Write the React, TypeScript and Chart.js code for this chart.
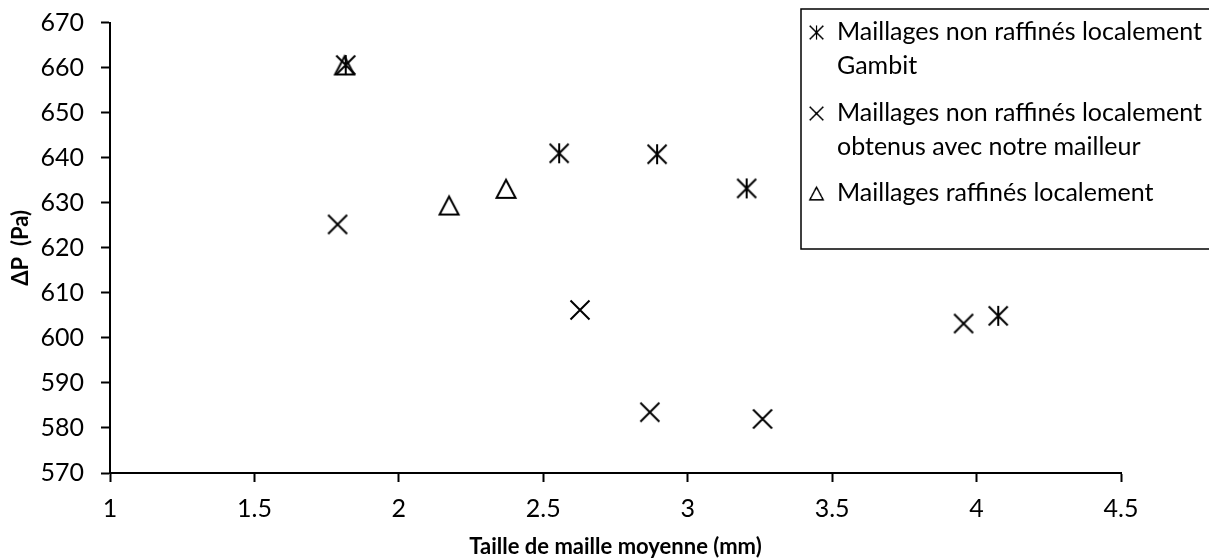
import React, { useEffect, useRef } from "react";
import { Chart, registerables } from "chart.js";

Chart.register(...registerables);

// ---- Data ----
const gambitX = [1.816, 2.555, 2.894, 3.204, 4.075];
const gambitY = [660.6, 641.0, 640.8, 633.2, 604.9];
const notreX = [1.788, 2.627, 2.869, 3.259, 3.955];
const notreY = [625.2, 606.2, 583.5, 582.0, 603.2];
const raffX = [1.812, 2.174, 2.371];
const raffY = [660.5, 629.4, 633.1];

const legendLines = [
  ["Maillages non raffinés localement", "Gambit"],
  ["Maillages non raffinés localement", "obtenus avec notre mailleur"],
  ["Maillages raffinés localement"],
];
const xTitle = "Taille de maille moyenne (mm)";
const yTitle = "ΔP  (Pa)";
const xMin = 1;
const xMax = 4.5;
const xStep = 0.5;
const yMin = 570;
const yMax = 670;
const yStep = 10;

const FONT = "Lato, 'Noto Sans', sans-serif";

function makeMarker(kind: string): HTMLCanvasElement {
  const c = document.createElement("canvas");
  c.width = 24;
  c.height = 24;
  const ctx = c.getContext("2d")!;
  ctx.strokeStyle = "#000";
  ctx.lineWidth = 2;
  ctx.lineCap = "butt";
  const m = 12;
  ctx.beginPath();
  if (kind === "star") {
    ctx.moveTo(m - 9.5, m - 9.5);
    ctx.lineTo(m + 9.5, m + 9.5);
    ctx.moveTo(m + 9.5, m - 9.5);
    ctx.lineTo(m - 9.5, m + 9.5);
    ctx.moveTo(m, m - 10);
    ctx.lineTo(m, m + 10);
    ctx.stroke();
  } else if (kind === "cross") {
    ctx.moveTo(m - 9.5, m - 9.5);
    ctx.lineTo(m + 9.5, m + 9.5);
    ctx.moveTo(m + 9.5, m - 9.5);
    ctx.lineTo(m - 9.5, m + 9.5);
    ctx.stroke();
  } else {
    ctx.moveTo(m, m - 9);
    ctx.lineTo(m + 9.5, m + 9);
    ctx.lineTo(m - 9.5, m + 9);
    ctx.closePath();
    ctx.stroke();
  }
  return c;
}

export default function App() {
  const ref = useRef<HTMLCanvasElement | null>(null);

  useEffect(() => {
    document.body.style.margin = "0";
    const canvas = ref.current;
    if (!canvas) return;
    const star = makeMarker("star");
    const cross = makeMarker("cross");
    const tri = makeMarker("tri");
    const markers = [star, cross, tri];

    const legendPlugin = {
      id: "customLegend",
      afterDraw(chart: any) {
        const ctx = chart.ctx;
        ctx.save();
        ctx.strokeStyle = "#000";
        ctx.lineWidth = 1.5;
        ctx.strokeRect(801, 9, 420, 240);
        ctx.fillStyle = "#000";
        ctx.font = `25px ${FONT}`;
        ctx.textBaseline = "middle";
        ctx.textAlign = "left";
        const rows = [32, 113, 193];
        const lh = 34;
        legendLines.forEach((lines, i) => {
          const y0 = rows[i];
          ctx.drawImage(markers[i], 816 - 8, y0 - 8, 17, 17);
          lines.forEach((t, j) => ctx.fillText(t, 837, y0 + j * lh));
        });
        ctx.restore();
      },
    };

    const chart = new Chart(canvas, {
      type: "scatter",
      data: {
        datasets: [
          {
            label: legendLines[0].join(" "),
            data: gambitX.map((x, i) => ({ x, y: gambitY[i] })),
            pointStyle: star as any,
            pointRadius: 10,
            showLine: false,
          },
          {
            label: legendLines[1].join(" "),
            data: notreX.map((x, i) => ({ x, y: notreY[i] })),
            pointStyle: cross as any,
            pointRadius: 10,
            showLine: false,
          },
          {
            label: legendLines[2].join(" "),
            data: raffX.map((x, i) => ({ x, y: raffY[i] })),
            pointStyle: tri as any,
            pointRadius: 10,
            showLine: false,
          },
        ],
      },
      options: {
        animation: false,
        responsive: false,
        devicePixelRatio: 1,
        layout: { padding: { top: 0, right: 88, bottom: 0, left: 0 } },
        plugins: {
          legend: { display: false },
          tooltip: { enabled: false },
        },
        scales: {
          x: {
            type: "linear",
            min: xMin,
            max: xMax,
            ticks: {
              stepSize: xStep,
              color: "#000",
              font: { family: FONT, size: 25 },
              padding: 12,
              maxRotation: 0,
              autoSkip: false,
              callback: (v: any) => String(+v),
            },
            grid: {
              drawOnChartArea: false,
              drawTicks: true,
              tickLength: 9,
              tickWidth: 2,
              tickColor: "#000",
            },
            border: { display: true, color: "#000", width: 2 },
            title: {
              display: true,
              text: xTitle,
              color: "#000",
              font: { family: FONT, size: 22, weight: "bold" },
              padding: { top: 0, bottom: 0 },
            },
            afterFit: (s: any) => {
              s.height = 87;
            },
          },
          y: {
            type: "linear",
            min: yMin,
            max: yMax,
            ticks: {
              stepSize: yStep,
              color: "#000",
              font: { family: FONT, size: 25, lineHeight: 0.456 },
              padding: 17,
              autoSkip: false,
              callback: (v: any) => String(+v),
            },
            grid: {
              drawOnChartArea: false,
              drawTicks: true,
              tickLength: 9,
              tickWidth: 2,
              tickColor: "#000",
            },
            border: { display: true, color: "#000", width: 2 },
            title: {
              display: true,
              text: yTitle,
              color: "#000",
              font: { family: FONT, size: 22, weight: "bold" },
              padding: { top: 8, bottom: 0 },
            },
            afterFit: (s: any) => {
              s.width = 110;
            },
          },
        },
      },
      plugins: [legendPlugin],
    } as any);

    return () => chart.destroy();
  }, []);

  return (
    <div style={{ width: 1209, height: 560 }}>
      <canvas ref={ref} width={1209} height={560} style={{ width: 1209, height: 560, display: "block" }} />
    </div>
  );
}
